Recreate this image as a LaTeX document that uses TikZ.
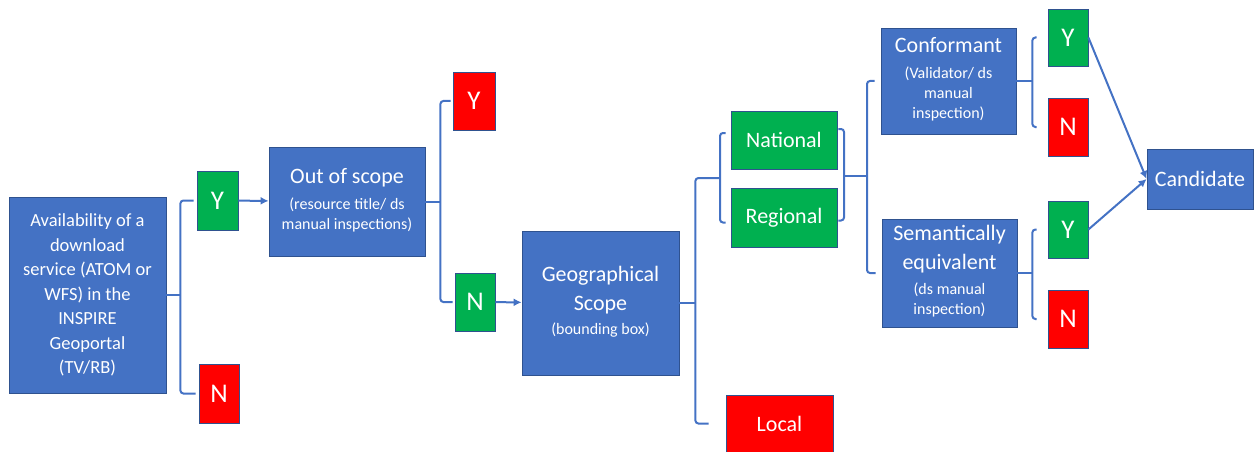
\documentclass[tikz,border=0pt]{standalone}
\usepackage{fontspec}
\setmainfont{Carlito}
\usetikzlibrary{arrows.meta}

\definecolor{boxblue}{HTML}{4472C4}
\definecolor{boxline}{HTML}{2F528F}
\definecolor{yesgreen}{HTML}{00B050}
\definecolor{nored}{HTML}{FF0000}

\newcommand{\hdfont}{\fontsize{22}{29}\selectfont}
\newcommand{\sbfont}{\fontsize{16}{20}\selectfont}
\newcommand{\avfont}{\fontsize{18.5}{24.5}\selectfont}
\newcommand{\ynfont}{\fontsize{27}{30}\selectfont}
% smaller note lines under a heading
\newcommand{\subtxt}[1]{{\sbfont\begin{tabular}[t]{@{}c@{}}#1\end{tabular}}}

\begin{document}
\begin{tikzpicture}[
  x=1pt, y=-1pt,
  box/.style={
    rectangle, draw=boxline,
    line width=0.8pt,
    fill=boxblue,
    text=white,
    align=center,
    inner sep=0pt,
    font=\hdfont
  },
  yes/.style={box, fill=yesgreen, font=\ynfont},   % Y answer
  no/.style={box, fill=nored, font=\ynfont},       % N answer
  link/.style={draw=boxblue, line width=2pt, rounded corners=3pt},
  arrow/.style={draw=boxblue, line width=2pt, -{Latex[length=8pt,width=8pt]}}
]
\useasboundingbox (0,0) rectangle (1254,452);

% --- decision boxes ---
\node[box, minimum width=157, minimum height=196, font=\avfont] (avail) at (87.5,295)
  {Availability of a\\download\\service (ATOM or\\WFS) in the\\INSPIRE\\Geoportal\\(TV/RB)};
\node[box, minimum width=156, minimum height=109] (scope) at (347,201.5)
  {Out of scope\\[-3pt]\subtxt{(resource title/ ds\\manual inspections)}};
\node[box, minimum width=157, minimum height=144] (geo) at (600.5,303)
  {Geographical\\Scope\\[-5pt]\subtxt{(bounding box)}};
\node[box, minimum width=135, minimum height=106] (conf) at (948.5,81)
  {Conformant\\[-3pt]\subtxt{(Validator/ ds\\manual\\inspection)}};
\node[box, minimum width=135, minimum height=108] (sem) at (949.5,273)
  {Semantically\\equivalent\\[-4pt]\subtxt{(ds manual\\inspection)}};
\node[box, minimum width=106, minimum height=60] (cand) at (1200,179) {Candidate};

% --- answers ---
\node[yes, minimum width=41, minimum height=59] (y1) at (217.5,200.5) {Y};
\node[no,  minimum width=40, minimum height=59] (n1) at (219,393.5) {N};
\node[no,  minimum width=42, minimum height=58] (y2) at (474,101) {Y};
\node[yes, minimum width=40, minimum height=58] (n2) at (475,302) {N};

\node[yes, minimum width=106, minimum height=58, font=\hdfont] (nat) at (784,140) {National};
\node[yes, minimum width=106, minimum height=59, font=\hdfont] (reg) at (784,217.5) {Regional};
\node[no,  minimum width=107, minimum height=57, font=\hdfont] (local) at (779.5,423.5) {Local};

\node[yes, minimum width=40, minimum height=57] (y3) at (1068,37.5) {Y};
\node[no,  minimum width=40, minimum height=58] (n3) at (1068,127) {N};
\node[yes, minimum width=40, minimum height=57] (y4) at (1068,229.5) {Y};
\node[no,  minimum width=40, minimum height=58] (n4) at (1068,319) {N};

% --- brackets ---
\draw[link] (avail.east) -- ++(14,0) coordinate (s1);
\draw[link] ([xshift=-3pt]y1.west) -| (s1) |- ([xshift=-3pt]n1.west);

\draw[link] (scope.east) -- ++(15,0) coordinate (s2);
\draw[link] ([xshift=-2pt]y2.west) -| (s2) |- ([xshift=-2pt]n2.west);

\draw[link] (geo.east) -- ++(16,0) coordinate (s3);
\coordinate (nr) at (720,178);
\draw[link] ([xshift=-17pt]local.west) -| (s3) |- (nr);
\draw[link] ([shift={(-5pt,7pt)}]nat.west) -| (nr) |- ([shift={(-5pt,-5pt)}]reg.west);

\coordinate (nr2) at (844,176);
\draw[link] ([shift={(1pt,11pt)}]nat.east) -| (nr2) |- ([shift={(1pt,-3pt)}]reg.east);
\draw[link] (nr2) -- ++(23,0) coordinate (s4);
\draw[link] ([xshift=-6pt]conf.west) -| (s4) |- ([xshift=-6pt]sem.west);

\draw[link] (conf.east) -- ++(16,0) coordinate (s5);
\draw[link] ([xshift=-11pt]y3.west) -| (s5) |- ([xshift=-11pt]n3.west);

\draw[link] (sem.east) -- ++(15,0) coordinate (s6);
\draw[link] ([xshift=-11pt]y4.west) -| (s6) |- ([xshift=-11pt]n4.west);

% --- arrows ---
\draw[arrow] (y1) -- (scope);
\draw[arrow] (n2) -- (geo);
\draw[arrow] (y3.east) -- (cand.west);
\draw[arrow] (y4.east) -- (cand.west);

\end{tikzpicture}
\end{document}
